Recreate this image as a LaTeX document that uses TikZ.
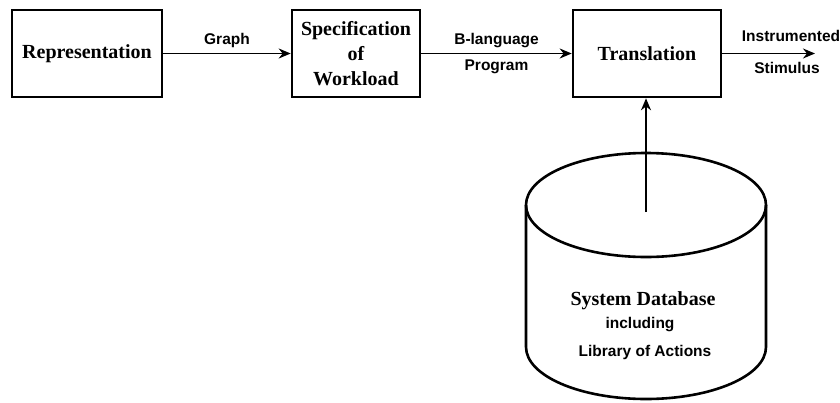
\documentclass[tikz,border=0pt]{standalone}
\usepackage{fontspec}
\setmainfont{Liberation Serif}
\setsansfont{Liberation Sans}
\usetikzlibrary{arrows.meta}

\begin{document}
\begin{tikzpicture}[x=1pt,y=-1pt,
    block/.style={draw, line width=2.6pt, minimum height=87pt, align=center,
      font=\fontsize{20}{25}\selectfont\bfseries},
    lbl/.style={font=\fontsize{15.5}{18}\selectfont\sffamily\bfseries},
    flow/.style={line width=1.6pt, -{Stealth[length=12pt,width=10pt]}}]
    \useasboundingbox (0,0) rectangle (840,402);

    \node[block, minimum width=150pt] (Rep) at (87,53.5) {Representation};
    \node[block, minimum width=128pt] (Spec) at (356,53.5) {Specification\\of\\Workload};
    \node[block, minimum width=148pt] (Trans) at (647,53.5) {Translation};

    \draw[flow] (Rep) -- node[lbl, above=2pt] (G) {Graph} (Spec);
    \draw[flow] (Spec) -- node[lbl, above=2pt] (BL) {B-language}
                          node[lbl, below=2pt] (Prog) {Program} (Trans);

    \coordinate (Out) at (815,53.5);
    \draw[flow] (Trans) -- (Out);
    \node[lbl] (Instr) at (791,36) {Instrumented};
    \node[lbl] (Stim) at (787,68) {Stimulus};

    % database drum
    \draw[line width=2.6pt] (646,205) ellipse (120 and 52);
    \draw[line width=2.6pt] (526,205) -- (526,347) arc (180:0:120 and 52) -- (766,205);
    \node[font=\fontsize{20}{22}\selectfont\bfseries] (DB) at (643,301) {System Database};
    \node[lbl] (Incl) at (640,325) {including};
    \node[lbl] (Lib) at (645,352) {Library of Actions};

    \coordinate (DBtop) at (646,212);
    \draw[flow] (DBtop) -- (Trans.south -| DBtop);
  \end{tikzpicture}
\end{document}
